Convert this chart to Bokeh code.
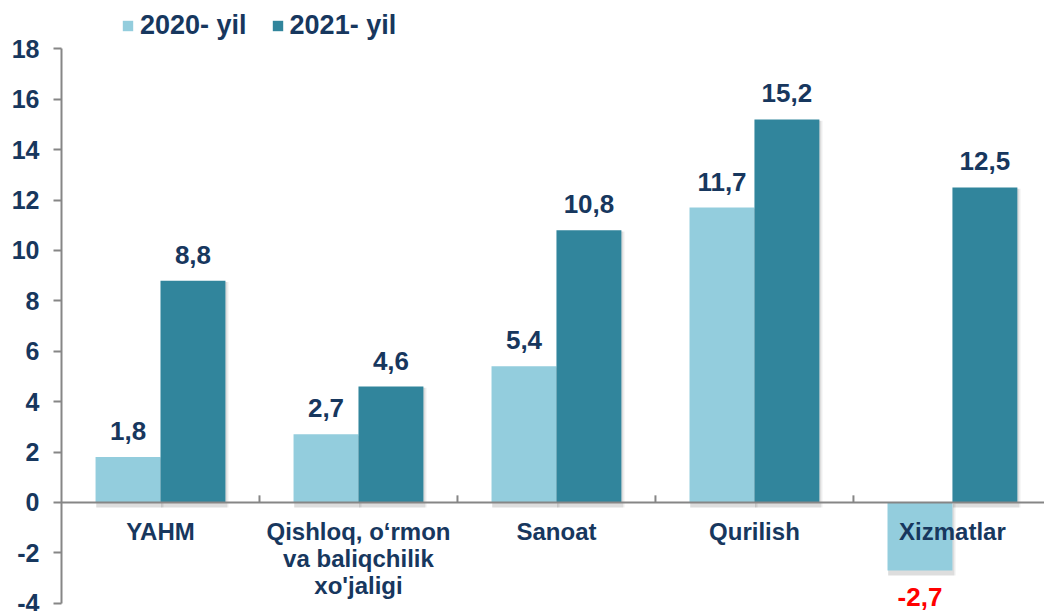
from bokeh.plotting import figure
from bokeh.models import Range1d, ColumnDataSource, Legend, LegendItem, Span, FixedTicker
from bokeh.transform import dodge
from bokeh.embed import file_html
from bokeh.resources import INLINE
from bokeh.core.properties import value

categories = ["YAHM", "Qishloq, o\u2018rmon\nva baliqchilik\nxo'jaligi", "Sanoat", "Qurilish", "Xizmatlar"]
y2020 = [1.8, 2.7, 5.4, 11.7, -2.7]
y2021 = [8.8, 4.6, 10.8, 15.2, 12.5]
series_names = ["2020- yil", "2021- yil"]
y_ticks = list(range(-4, 20, 2))

FONT = "Liberation Sans"
TXT = "#17375E"
LIGHT = "#93CDDD"
DARK = "#31859C"
GRAY = "#868686"

centers = [i + 0.5 for i in range(len(categories))]

def fmt(v):
    return f"{v:.1f}".replace(".", ",")

src = ColumnDataSource(dict(
    x=centers, cat=categories, a=y2020, b=y2021,
    la=[fmt(v) for v in y2020], lb=[fmt(v) for v in y2021],
    ca=["#FF0000" if v < 0 else TXT for v in y2020],
    cb=["#FF0000" if v < 0 else TXT for v in y2021],
    oa=[27 if v < 0 else -26 for v in y2020],
    ob=[27 if v < 0 else -26 for v in y2021],
    sta=[max(v, 0) - 0.05 for v in y2020], sba=[min(v, 0) - 0.2 for v in y2020],
    stb=[max(v, 0) - 0.05 for v in y2021], sbb=[min(v, 0) - 0.2 for v in y2021],
))

p = figure(width=1044, height=611, x_range=Range1d(0, 4.965), y_range=Range1d(-4.33, 19.92),
           output_backend="svg", toolbar_location=None, x_axis_location=None,
           min_border_left=61, min_border_right=0, min_border_top=0, min_border_bottom=0)
p.outline_line_color = None
p.xgrid.visible = False
p.ygrid.visible = False

bw = 0.328
# soft shadows
for dx, extra, alpha in [(0.010, 0.012, 0.06), (0.006, 0.006, 0.08)]:
    p.vbar(x=dodge('x', -bw / 2 + dx, range=p.x_range), top='sta', bottom='sba', width=bw + extra,
           source=src, fill_color="black", fill_alpha=alpha, line_color=None)
    p.vbar(x=dodge('x', bw / 2 + dx, range=p.x_range), top='stb', bottom='sbb', width=bw + extra,
           source=src, fill_color="black", fill_alpha=alpha, line_color=None)

r1 = p.vbar(x=dodge('x', -bw / 2, range=p.x_range), top='a', bottom=0, width=bw, source=src,
            fill_color=LIGHT, line_color=None)
r2 = p.vbar(x=dodge('x', bw / 2, range=p.x_range), top='b', bottom=0, width=bw, source=src,
            fill_color=DARK, line_color=None)

p.add_layout(Span(location=0, dimension="width", line_color=GRAY, line_width=2))
bounds = [float(i) for i in range(1, len(categories))]
p.segment(x0=bounds, y0=[0] * len(bounds), x1=bounds, y1=[0.28] * len(bounds),
          line_color=GRAY, line_width=2)

p.text(x=dodge('x', -bw / 2, range=p.x_range), y='a', text='la', source=src, text_color='ca',
       y_offset='oa', text_align="center", text_baseline="middle",
       text_font=value(FONT), text_font_style="bold", text_font_size="26px")
p.text(x=dodge('x', bw / 2, range=p.x_range), y='b', text='lb', source=src, text_color='cb',
       y_offset='ob', text_align="center", text_baseline="middle",
       text_font=value(FONT), text_font_style="bold", text_font_size="26px")

p.text(x='x', y=0, text='cat', source=src, text_color=TXT, y_offset=16,
       text_align="center", text_baseline="top", text_line_height=1.0,
       text_font=value(FONT), text_font_style="bold", text_font_size="24px")

ax = p.yaxis[0]
ax.ticker = FixedTicker(ticks=y_ticks)
ax.bounds = (y_ticks[0], y_ticks[-1])
ax.major_label_overrides = {t: str(t) for t in y_ticks}
ax.axis_line_color = GRAY
ax.axis_line_width = 2
ax.major_tick_line_color = GRAY
ax.major_tick_line_width = 2
ax.major_tick_out = 8
ax.major_tick_in = 0
ax.minor_tick_line_color = None
ax.major_label_standoff = 14
ax.major_label_text_font = FONT
ax.major_label_text_font_style = "bold"
ax.major_label_text_font_size = "25px"
ax.major_label_text_color = TXT

legend = Legend(items=[LegendItem(label=series_names[0], renderers=[r1]),
                       LegendItem(label=series_names[1], renderers=[r2])],
                orientation="horizontal", location=(60, 570),
                glyph_width=13, glyph_height=13, label_standoff=6, spacing=24,
                padding=0, margin=0, border_line_color=None, background_fill_alpha=0,
                label_text_font=FONT, label_text_font_style="bold",
                label_text_font_size="27px", label_text_color=TXT)
p.add_layout(legend)

open("out.html", "w").write(file_html(p, INLINE))
